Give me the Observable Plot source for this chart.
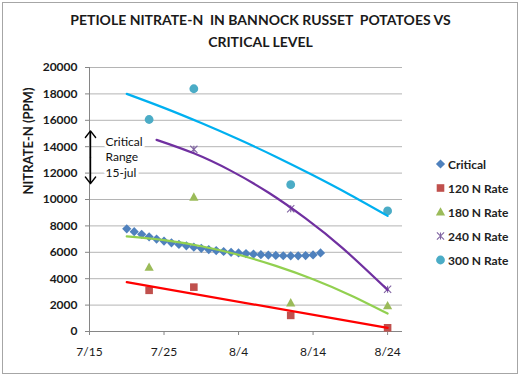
<!DOCTYPE html>
<html><head><meta charset="utf-8">
<script src="https://cdn.jsdelivr.net/npm/d3@7"></script>
<script src="https://cdn.jsdelivr.net/npm/@observablehq/plot@0.6"></script>
<style>
body{margin:0;background:#fff;font-family:Lato,"Open Sans",sans-serif;}
#wrap{position:relative;width:521px;height:376px;overflow:hidden;background:#fff;}
#frame{position:absolute;left:2px;top:2px;width:516px;height:372px;border:1px solid #a6a6a6;box-sizing:border-box;}
#title{position:absolute;left:0;width:521px;top:9px;text-align:center;font-weight:bold;font-size:14px;line-height:22px;white-space:pre;color:#1a1a1a;}
#chart{position:absolute;left:0;top:55px;}
#legend{position:absolute;left:435px;top:152px;font-weight:bold;font-size:12px;color:#222;}
.row{height:24px;display:flex;align-items:center;white-space:nowrap;}
.row svg{margin-right:2px;}
</style></head><body>
<div id="wrap"><div id="frame"></div><div id="title"></div><div id="chart"></div><div id="legend"></div></div>
<script>
// ---- text ----
const titleLines = ["PETIOLE NITRATE-N  IN BANNOCK RUSSET  POTATOES VS", "CRITICAL LEVEL"];
const yLabel = "NITRATE-N (PPM)";
const noteText = "Critical\nRange\n15-jul";
const xTickLabels = ["7/15", "7/25", "8/4", "8/14", "8/24"];
const xDomainLabels = ["7/15", "8/26"];
const yTicks = [0, 2000, 4000, 6000, 8000, 10000, 12000, 14000, 16000, 18000, 20000];
const legendNames = ["Critical", "120 N Rate", "180 N Rate", "240 N Rate", "300 N Rate"];

// ---- critical curve (daily) ----
const critDates = ["7/20","7/21","7/22","7/23","7/24","7/25","7/26","7/27","7/28","7/29","7/30","7/31",
  "8/1","8/2","8/3","8/4","8/5","8/6","8/7","8/8","8/9","8/10","8/11","8/12","8/13","8/14","8/15"];
const critValues = [7780,7560,7360,7170,7000,6850,6720,6600,6490,6390,6300,6210,
  6130,6060,6000,5950,5900,5860,5820,5790,5760,5740,5730,5730,5750,5800,5950];

// ---- sampled N-rate data ----
const sampleDates = ["7/23", "7/29", "8/11", "8/24"];
const rate120 = [3120, 3360, 1220, 280];
const rate180 = [4870, 10180, 2170, 1950];
const rate240 = [null, 13800, 9300, 3200];
const rate300 = [16060, 18390, 11120, 9130];

// ---- trend lines ----
const trend120Dates = ["7/20", "8/24"];
const trend120 = [3740, 280];
const trend180Dates = ["7/20","7/25","7/30","8/4","8/9","8/14","8/19","8/24"];
const trend180 = [7200, 6920, 6460, 5810, 4970, 3960, 2750, 1360];
const trend240Dates = ["7/24","7/29","8/3","8/8","8/13","8/18","8/24"];
const trend240 = [14520, 13500, 12170, 10530, 8570, 6300, 3150];
const trend300Dates = ["7/20","7/25","7/30","8/4","8/9","8/14","8/19","8/24"];
const trend300 = [18000, 16940, 15790, 14560, 13240, 11830, 10340, 8760];

// ---- annotation ----
const arrowDate = "7/15";
const arrowRange = [11200, 15200];
const noteValue = 13280;

// ---- styles ----
const markerColors = ["#4F81BD", "#C0504D", "#9BBB59", "#8064A2", "#4BACC6"];
const trendColors = ["#FF0000", "#92D050", "#7030A0", "#00B0F0"];

const parse = s => { const [m, d] = s.split("/").map(Number); return new Date(Date.UTC(2011, m - 1, d)); };
const fmt = d => `${d.getUTCMonth() + 1}/${d.getUTCDate()}`;

const diamondSym = {draw(c, size){ const r = Math.sqrt(size / Math.PI); c.moveTo(0, -r); c.lineTo(r, 0); c.lineTo(0, r); c.lineTo(-r, 0); c.closePath(); }};
const squareSym = {draw(c, size){ const r = Math.sqrt(size / Math.PI); c.rect(-r, -r, 2 * r, 2 * r); }};
const triSym = {draw(c, size){ const r = Math.sqrt(size / Math.PI); c.moveTo(0, -r * 1.1); c.lineTo(r * 1.05, r * 0.8); c.lineTo(-r * 1.05, r * 0.8); c.closePath(); }};
const starSym = {draw(c, size){ const r = Math.sqrt(size / Math.PI); c.moveTo(-r, -r); c.lineTo(r, r); c.moveTo(r, -r); c.lineTo(-r, r); c.moveTo(0, -r); c.lineTo(0, r); }};
const symbols = [diamondSym, squareSym, triSym, starSym, "circle"];
const symR = [4.6, 3.8, 4.4, 3.6, 4.4];

const critRows = critDates.map((d, i) => ({date: parse(d), v: critValues[i]}));
const mk = (vals) => sampleDates.map((d, i) => ({date: parse(d), v: vals[i]})).filter(r => r.v != null);
const seriesRows = [mk(rate120), mk(rate180), mk(rate240), mk(rate300)];
const tr = (ds, vs) => ds.map((d, i) => ({date: parse(d), v: vs[i]}));
const trendRows = [tr(trend120Dates, trend120), tr(trend180Dates, trend180), tr(trend240Dates, trend240), tr(trend300Dates, trend300)];

const xDomain = xDomainLabels.map(parse);
const xTicks = xTickLabels.map(parse);
const arrowMid = (arrowRange[0] + arrowRange[1]) / 2;

const dotMarks = [
  Plot.dot(critRows, {x: "date", y: "v", symbol: symbols[0], r: symR[0], fill: markerColors[0], stroke: "none"}),
  ...seriesRows.map((rows, i) => {
    const k = i + 1;
    const isStar = k === 3;
    return Plot.dot(rows, {x: "date", y: "v", symbol: symbols[k], r: symR[k],
      fill: isStar ? "none" : markerColors[k], stroke: isStar ? markerColors[k] : "none", strokeWidth: 1.1});
  })
];
const lineMarks = trendRows.map((rows, i) => Plot.line(rows, {x: "date", y: "v", stroke: trendColors[i], strokeWidth: 2.2, curve: "natural"}));

const chart = Plot.plot({
  width: 521, height: 321,
  marginTop: 12, marginBottom: 45, marginLeft: 89, marginRight: 119,
  style: {fontFamily: "Lato, 'Open Sans', sans-serif", background: "transparent", color: "#1a1a1a"},
  x: {type: "utc", domain: xDomain},
  y: {domain: [0, 20000]},
  marks: [
    Plot.gridY(yTicks, {stroke: "#b4b4b4", strokeOpacity: 1}),
    Plot.ruleY([0], {stroke: "#868686"}),
    Plot.ruleX([xDomain[0]], {stroke: "#868686"}),
    Plot.axisY(yTicks, {tickSize: 4, tickPadding: 8, fontWeight: "bold", fontSize: 12, stroke: "#868686", fill: "#1a1a1a",
      label: null, tickFormat: d => String(d)}),
    Plot.text([yLabel], {frameAnchor: "left", text: d => d, rotate: -90, dx: -61, dy: -5, fontSize: 13, fontWeight: "bold", fill: "#1a1a1a"}),
    Plot.axisX(xTicks, {tickSize: 4, tickPadding: 12, fontSize: 12, stroke: "#868686", fill: "#1a1a1a", label: null, tickFormat: fmt}),
    Plot.text([noteText], {x: () => parse(arrowDate), y: () => noteValue, text: d => d, textAnchor: "start", dx: 16,
      lineHeight: 1.3, fontSize: 12, fill: "#111", stroke: "white", strokeWidth: 6}),
    Plot.arrow([0, 1], {x1: () => parse(arrowDate), x2: () => parse(arrowDate), y1: () => arrowMid, y2: (d, i) => arrowRange[i === 0 ? 1 : 0],
      stroke: "#000", strokeWidth: 1.4, headLength: 9, headAngle: 75, dx: 1}),
    ...dotMarks,
    ...lineMarks
  ]
});
document.getElementById("chart").appendChild(chart);

document.getElementById("title").textContent = titleLines.join("\n");

// legend
const legend = d3.select("#legend");
legendNames.forEach((name, i) => {
  const row = legend.append("div").attr("class", "row");
  const svg = row.append("svg").attr("width", 11).attr("height", 12);
  const r = symR[i];
  if (symbols[i] === "circle") {
    svg.append("circle").attr("cx", 5.5).attr("cy", 6).attr("r", r).attr("fill", markerColors[i]);
  } else {
    const isStar = i === 3;
    svg.append("path").attr("transform", "translate(5.5,6)")
      .attr("d", d3.symbol(symbols[i], r * r * Math.PI)())
      .attr("fill", isStar ? "none" : markerColors[i]).attr("stroke", isStar ? markerColors[i] : "none").attr("stroke-width", 1.1);
  }
  row.append("span").text(name);
});
</script>
</body></html>
